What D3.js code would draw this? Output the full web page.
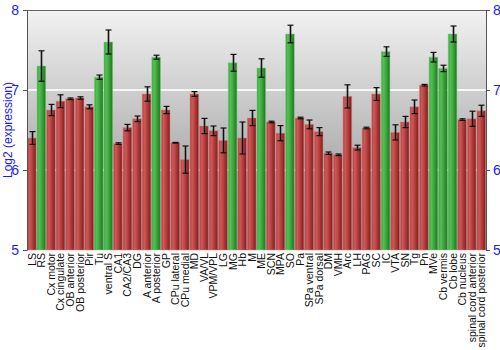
<!DOCTYPE html>
<html>
<head>
<meta charset="utf-8">
<script src="https://cdn.jsdelivr.net/npm/d3@7"></script>
<style>
  html, body { margin: 0; padding: 0; background: #fff; }
  svg { display: block; font-family: "Liberation Sans", Arial, sans-serif; }
</style>
</head>
<body>
<svg id="chart" width="500" height="350"></svg>
<script>
// Brain regions and their mean log2 expression with standard error
const regions = ["LS","RS","Cx motor","Cx cingulate","OB anterior","OB posterior","Pir","Tu","ventral S",
  "CA1","CA2/CA3","DG","A anterior","A posterior","GP","CPu lateral","CPu medial","MD","VA/VL","VPM/VPL",
  "LG","MG","Hb","M","ME","SCN","MPA","SO","Pa","SPa ventral","SPa dorsal","DM","VMH","Arc","LH","PAG",
  "SC","IC","VTA","SN","Tg","Pn","MVe","Cb vermis","Cb lobe","Cb nucleus","spinal cord anterior","spinal cord posterior"];
const values = [6.40,7.30,6.75,6.86,6.89,6.90,6.79,7.16,7.60,
  6.33,6.53,6.64,6.95,7.41,6.75,6.34,6.13,6.95,6.55,6.49,
  6.37,7.34,6.40,6.65,7.275,6.60,6.46,7.70,6.65,6.57,6.48,6.21,6.19,6.92,6.28,6.525,
  6.95,7.48,6.47,6.60,6.79,7.06,7.41,7.27,7.70,6.63,6.64,6.74];
const errors = [0.08,0.19,0.07,0.08,0.01,0.015,0.025,0.027,0.15,
  0.01,0.04,0.035,0.09,0.025,0.045,0.005,0.17,0.03,0.095,0.06,
  0.155,0.105,0.2,0.095,0.115,0.01,0.095,0.11,0.01,0.055,0.05,0.015,0.01,0.145,0.03,0.01,
  0.08,0.06,0.095,0.07,0.085,0.01,0.06,0.04,0.10,0.01,0.095,0.07];
// Highlighted (enriched) regions drawn in green
const highlighted = ["RS","Tu","ventral S","A posterior","MG","ME","SO","IC","MVe","Cb vermis","Cb lobe"];
const yTicks = [5, 6, 7, 8];

const svg = d3.select("#chart");
const m = { left: 27, right: 486, top: 10, bottom: 250 };

const x = d3.scaleBand().domain(regions).range([m.left, m.right]).paddingInner(0.1).paddingOuter(0.05);
const y = d3.scaleLinear().domain([5, 8]).range([m.bottom, m.top]);

const defs = svg.append("defs");
const bg = defs.append("linearGradient").attr("id", "bg").attr("x1", 0).attr("y1", 0).attr("x2", 0).attr("y2", 1);
bg.append("stop").attr("offset", "0%").attr("stop-color", "#f2f2f2");
bg.append("stop").attr("offset", "100%").attr("stop-color", "#888888");

function barGrad(id, light, mid, dark) {
  const g = defs.append("linearGradient").attr("id", id).attr("x1", 0).attr("y1", 0).attr("x2", 1).attr("y2", 0);
  g.append("stop").attr("offset", "0%").attr("stop-color", mid);
  g.append("stop").attr("offset", "25%").attr("stop-color", light);
  g.append("stop").attr("offset", "60%").attr("stop-color", mid);
  g.append("stop").attr("offset", "100%").attr("stop-color", dark);
}
barGrad("red", "#cc5a5a", "#b23b3b", "#7e1c1c");
barGrad("green", "#55bf55", "#3aa33a", "#1d741d");

// plot background
svg.append("rect")
  .attr("x", m.left).attr("y", m.top)
  .attr("width", m.right - m.left).attr("height", m.bottom - m.top)
  .attr("fill", "url(#bg)");

// horizontal grid lines
svg.append("g").selectAll("line").data([6, 7]).join("line")
  .attr("x1", m.left).attr("x2", m.right)
  .attr("y1", d => y(d)).attr("y2", d => y(d))
  .attr("stroke", "#fff").attr("stroke-opacity", 0.8).attr("stroke-width", 2);

// bars
svg.append("g").selectAll("rect").data(regions).join("rect")
  .attr("x", d => x(d))
  .attr("width", x.bandwidth())
  .attr("y", (d, i) => y(values[i]))
  .attr("height", (d, i) => y(5) - y(values[i]))
  .attr("fill", d => highlighted.includes(d) ? "url(#green)" : "url(#red)")
  .attr("stroke", d => highlighted.includes(d) ? "#7fd07f" : "#d98080")
  .attr("stroke-opacity", 0.5)
  .attr("stroke-width", 1);

// error bars
const eb = svg.append("g").attr("stroke", "#111").attr("stroke-width", 1.2);
regions.forEach((d, i) => {
  const cx = Math.round(x(d) + x.bandwidth() / 2) + 0.5;
  const y0 = y(values[i] - errors[i]), y1 = y(values[i] + errors[i]);
  const g = eb.append("g");
  g.append("line").attr("x1", cx).attr("x2", cx).attr("y1", y0).attr("y2", y1)
    .attr("stroke", "#555").attr("stroke-width", 3).attr("stroke-opacity", 0.35);
  g.append("line").attr("x1", cx).attr("x2", cx).attr("y1", y0).attr("y2", y1);
  [y0, y1].forEach(yy => g.append("line").attr("x1", cx - 3).attr("x2", cx + 3).attr("y1", yy).attr("y2", yy));
});

// frame: top line
svg.append("line").attr("x1", m.left).attr("x2", m.right).attr("y1", m.top + 0.5).attr("y2", m.top + 0.5)
  .attr("stroke", "#666").attr("stroke-width", 1);

const leftAxis = d3.axisLeft(y).tickValues(yTicks).tickFormat(d3.format("d")).tickSize(4).tickPadding(4);
const gl = svg.append("g").attr("transform", `translate(${m.left},0)`).call(leftAxis);
const rightAxis = d3.axisRight(y).tickValues(yTicks).tickFormat(d3.format("d")).tickSize(4).tickPadding(3);
const gr = svg.append("g").attr("transform", `translate(${m.right},0)`).call(rightAxis);
[gl, gr].forEach(g => {
  g.select(".domain").attr("stroke", "#555");
  g.selectAll(".tick line").attr("stroke", "#555");
  g.selectAll(".tick text").attr("fill", "#1a1aff").attr("font-size", 14)
    .attr("font-family", "'Liberation Sans', Arial, sans-serif");
});

// y axis title
svg.append("text")
  .attr("transform", `translate(12,${(m.top + m.bottom) / 2}) rotate(-90)`)
  .attr("text-anchor", "middle")
  .attr("fill", "#1a1aff").attr("font-size", 12)
  .text("Log2 (expression)");

// region labels
svg.append("g").selectAll("text").data(regions).join("text")
  .attr("transform", d => `translate(${x(d) + x.bandwidth() / 2 + 4},${m.bottom + 3}) rotate(-90)`)
  .attr("text-anchor", "end")
  .attr("font-size", 10.5)
  .attr("fill", "#111")
  .text(d => d);
</script>
</body>
</html>
